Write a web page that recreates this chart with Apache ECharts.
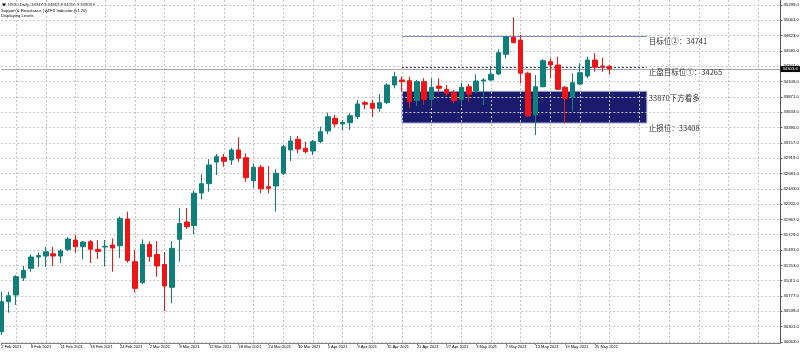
<!DOCTYPE html>
<html>
<head>
<meta charset="UTF-8">
<title>US30 Daily</title>
<style>
  html, body { margin: 0; padding: 0; background: #fff; }
  #chart { width: 800px; height: 354px; }
</style>
</head>
<body>
<div id="chart"></div>
<script src="https://cdn.jsdelivr.net/npm/echarts@6/dist/echarts.min.js"></script>
<script>
// daily bars
var opens = [30222, 30688, 30792, 31057, 31207, 31383, 31398, 31434, 31398, 31502,
  31647, 31543, 31621, 31502, 31538, 31569, 31557, 31973, 31310, 30984,
  31577, 31422, 31266, 30912, 31658, 31927, 31872, 32377, 32522, 32859,
  32932, 32890, 33046, 32926, 32569, 32777, 32475, 32486, 32684, 33046,
  33212, 33072, 33030, 33175, 33341, 33538, 33450, 33470, 33563, 33781,
  33771, 33694, 33781, 34056, 34134, 34123, 33812, 34107, 33834, 34040,
  33989, 33936, 33834, 34029, 33963, 34118, 34134, 34227, 34533, 34797,
  34755, 34238, 33590, 34029, 34418, 34367, 34020, 33865, 34071, 34196,
  34444, 34351, 34347.3];
var highs = [30844, 30844, 31103, 31246, 31422, 31453, 31538, 31538, 31507, 31689,
  31725, 31632, 31647, 31647, 31647, 31670, 32012, 32087, 31492, 31658,
  31627, 31632, 31461, 31632, 32144, 32144, 32416, 32668, 32906, 32984,
  32984, 33081, 33243, 32994, 32839, 32813, 32797, 32746, 33123, 33263,
  33263, 33175, 33201, 33408, 33625, 33590, 33512, 33616, 33823, 33812,
  33823, 33916, 34082, 34263, 34185, 34185, 34134, 34160, 34160, 34160,
  34056, 33978, 34091, 34071, 34222, 34160, 34351, 34611, 34817, 35108,
  34833, 34263, 34211, 34455, 34471, 34496, 34040, 34238, 34393, 34496,
  34548, 34480, 34362.8];
var lows = [30171, 30517, 30637, 31010, 31154, 31228, 31228, 31243, 31290, 31476,
  31450, 31347, 31290, 31352, 31235, 31154, 31367, 31294, 30834, 30959,
  31310, 31077, 30544, 30663, 31310, 31818, 31740, 32277, 32398, 32657,
  32786, 32813, 32864, 32553, 32451, 32373, 32373, 32087, 32657, 32875,
  32994, 32994, 32968, 33150, 33290, 33398, 33346, 33357, 33527, 33678,
  33563, 33641, 33761, 34004, 33952, 33694, 33729, 33745, 33719, 33927,
  33885, 33771, 33745, 33796, 33927, 33745, 34123, 34211, 34471, 34704,
  34082, 33563, 33279, 34020, 34160, 33978, 33461, 33641, 34056, 34160,
  34263, 34263, 34216.3];
var closes = [30688, 30781, 31077, 31176, 31383, 31406, 31465, 31398, 31476, 31663,
  31543, 31616, 31502, 31471, 31549, 31523, 31984, 31329, 30896, 31580,
  31391, 31243, 30932, 31518, 31904, 31854, 32373, 32522, 32813, 32942,
  32870, 33046, 32917, 32615, 32777, 32444, 32451, 32684, 33097, 33186,
  33061, 33019, 33175, 33330, 33563, 33450, 33476, 33579, 33761, 33756,
  33694, 33781, 34056, 34185, 34107, 33796, 34107, 33834, 34020, 34005,
  33927, 33812, 34020, 33911, 34118, 34134, 34222, 34558, 34806, 34713,
  34238, 33574, 34029, 34433, 34367, 33989, 33849, 34091, 34247, 34444,
  34331, 34331, 34303.6];

// one date label every 4 bars
var tickLabels = ['2 Feb 2021', '8 Feb 2021', '11 Feb 2021', '18 Feb 2021', '24 Feb 2021',
  '2 Mar 2021', '8 Mar 2021', '12 Mar 2021', '18 Mar 2021', '24 Mar 2021', '30 Mar 2021',
  '5 Apr 2021', '9 Apr 2021', '15 Apr 2021', '21 Apr 2021', '27 Apr 2021',
  '3 May 2021', '7 May 2021', '13 May 2021', '19 May 2021', '25 May 2021'];
var yTicks = [30063, 30301, 30539, 30777, 31015, 31253, 31491, 31729, 31967, 32205,
  32443, 32681, 32919, 33157, 33395, 33633, 33871, 34109, 34347, 34585,
  34823, 35061, 35299];

// indicator levels where they are drawn, and their captions
var levelPrices = [34809, 34336];
var boxPrices = [33958, 33465];
var levelTexts = ['目标位②：34741', '止盈目标位①：34265', '33870下方看多', '止损位：33408'];
var levelFrom = 54, levelTo = 87;

var slots = 106; // bars + empty shift area on the right
var cats = [];
for (var i = 0; i < slots; i++) cats.push(String(i));

var candles = opens.map(function (o, i) {
  return [o, closes[i], lows[i], highs[i]];
});
var last = opens.length - 1;
var bid = closes[last];

var teal = '#0f7f79';
var red = '#f01414';
var small = 'Liberation Sans';

function isLabelSlot(i) {
  return i % 4 === 0 && i / 4 < tickLabels.length;
}

var chart = echarts.init(document.getElementById('chart'));
chart.setOption({
  animation: false,
  backgroundColor: '#fff',
  grid: { left: 1.3, right: 19.6, top: 0, bottom: 11, containLabel: false, outerBoundsMode: 'none' },
  xAxis: {
    type: 'category',
    data: cats,
    boundaryGap: false,
    z: 2,
    axisLine: { lineStyle: { color: '#808080', width: 1 } },
    axisTick: { show: true, interval: isLabelSlot, length: 2, lineStyle: { color: '#808080' } },
    axisLabel: {
      interval: isLabelSlot,
      formatter: function (v, i) { return tickLabels[i / 4] || ''; },
      align: 'left', fontSize: 4, color: '#000', margin: 2, fontFamily: small
    },
    splitLine: {
      show: true,
      interval: function (i) { return i % 4 === 2; },
      lineStyle: { color: '#c4c4c4', type: [2, 2], width: 1 }
    }
  },
  yAxis: {
    type: 'value',
    position: 'right',
    min: 30046.5,
    max: 35376.7,
    scale: true,
    z: 2,
    axisLine: { show: true, lineStyle: { color: '#555', width: 1 } },
    axisTick: { show: true, length: 2, customValues: yTicks, lineStyle: { color: '#555' } },
    axisLabel: {
      customValues: yTicks,
      formatter: function (v) { return v.toFixed(1); },
      fontSize: 4.3, color: '#000', margin: 3, fontFamily: small
    },
    splitLine: { show: true, customValues: yTicks, lineStyle: { color: '#c4c4c4', type: [2, 2], width: 1 } }
  },
  graphic: [
    { type: 'polygon', shape: { points: [[2, 3.6], [6, 3.6], [4, 6.4]] }, style: { fill: '#000' } },
    { type: 'text', x: 8, y: 5, style: { text: 'US30,Daily  ' + [opens[last], highs[last], lows[last], closes[last]].map(function (v) { return v.toFixed(1); }).join(' '), fontSize: 4.2, fontFamily: small, fill: '#000', verticalAlign: 'middle' } },
    { type: 'text', x: 1, y: 10.7, style: { text: 'Support & Resistance | ATFX Indicator (v1.70)', fontSize: 4.2, fontFamily: small, fill: '#000', verticalAlign: 'middle' } },
    { type: 'text', x: 1, y: 16.3, style: { text: 'Displaying Levels', fontSize: 4.2, fontFamily: small, fill: '#000', verticalAlign: 'middle' } }
  ],
  series: [
    {
      name: 'zone',
      type: 'line',
      data: [],
      z: 1,
      markArea: {
        silent: true,
        z: 1,
        itemStyle: { color: '#1b1b6e', borderColor: '#a3aacb', borderWidth: 1 },
        data: [[{ coord: [levelFrom, boxPrices[0]] }, { coord: [levelTo, boxPrices[1]] }]]
      }
    },
    {
      name: 'US30',
      type: 'candlestick',
      data: candles,
      z: 5,
      barWidth: 5,
      clip: false,
      itemStyle: {
        color: teal, color0: red,
        borderColor: teal, borderColor0: red,
        borderWidth: 1
      },
      markLine: {
        silent: true,
        symbol: 'none',
        lineStyle: { color: '#a6a6a6', type: 'solid', width: 1 },
        label: { show: false },
        data: [
          {
            yAxis: bid,
            label: {
              show: true, position: 'end', distance: 0,
              formatter: bid.toFixed(1),
              backgroundColor: '#000', color: '#fff', fontSize: 4.3, fontFamily: small,
              padding: [1, 2]
            }
          },
          [
            { coord: [levelFrom, levelPrices[0]], lineStyle: { color: '#7f8fc6', type: 'solid', width: 1 } },
            { coord: [levelTo, levelPrices[0]] }
          ],
          [
            { coord: [levelFrom, levelPrices[1]], lineStyle: { color: '#2c3ca0', type: [2, 2], width: 1 } },
            { coord: [levelTo, levelPrices[1]] }
          ]
        ]
      },
      markPoint: {
        silent: true,
        symbol: 'circle',
        symbolSize: 0,
        label: {
          show: true, position: 'right', distance: 2,
          fontSize: 7.5, color: '#333', fontFamily: 'Noto Sans CJK SC'
        },
        data: [
          { coord: [levelTo, levelPrices[0]], label: { formatter: levelTexts[0], offset: [0, 5] } },
          { coord: [levelTo, levelPrices[1]], label: { formatter: levelTexts[1], offset: [0, 5] } },
          { coord: [levelTo, boxPrices[0]], label: { formatter: levelTexts[2], offset: [0, 6.5] } },
          { coord: [levelTo, boxPrices[1]], label: { formatter: levelTexts[3], offset: [0, 5] } }
        ]
      }
    }
  ]
});
</script>
</body>
</html>
